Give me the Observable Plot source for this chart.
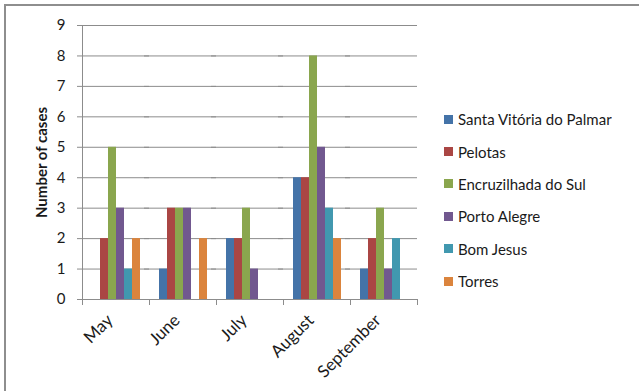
<!DOCTYPE html>
<html>
<head>
<meta charset="utf-8">
<script src="https://cdn.jsdelivr.net/npm/d3@7"></script>
<script src="https://cdn.jsdelivr.net/npm/@observablehq/plot@0.6"></script>
<style>
  body { margin: 0; background: #fff; }
  #chart { position: relative; width: 639px; height: 391px; overflow: hidden; font-family: Lato, sans-serif; }
  #chart .edge { position: absolute; left: 4px; top: 4px; width: 700px; height: 500px;
    border-top: 2px solid #8e8e8e; border-left: 2px solid #8e8e8e; }
  #chart > svg { position: absolute; left: 0; top: 0; }
  #legend { position: absolute; left: 444px; top: 103px; width: 195px; font-family: Lato, sans-serif; font-size: 15px; color: #1a1a1a; }
  #legend .leg-swatch { height: 32.4px; padding-bottom: 0 !important; font-size: 15px !important; font-family: Lato, sans-serif !important; }
  #legend .leg-swatch > svg { margin-right: 5px !important; }
</style>
</head>
<body>
<div id="chart"><div class="edge"></div><div id="legend"></div></div>
<script>
// Monthly number of cases per municipality
const months = ["May", "June", "July", "August", "September"];
const cities = ["Santa Vitória do Palmar", "Pelotas", "Encruzilhada do Sul", "Porto Alegre", "Bom Jesus", "Torres"];
const santaVitoria = [0, 1, 2, 4, 1];
const pelotas      = [2, 3, 2, 4, 2];
const encruzilhada = [5, 3, 3, 8, 3];
const portoAlegre  = [3, 3, 1, 5, 1];
const bomJesus     = [1, 0, 0, 3, 2];
const torres       = [2, 2, 0, 2, 0];
const yTicks = [0, 1, 2, 3, 4, 5, 6, 7, 8, 9];
const colors = ["#4473a8", "#aa4644", "#8aa64e", "#71588f", "#4198af", "#db843d"];

const series = [santaVitoria, pelotas, encruzilhada, portoAlegre, bomJesus, torres];
const data = months.flatMap((month, i) =>
  cities.map((city, j) => ({month, city, cases: series[j][i]}))
);

const grid = "#8c8c8c";
const W = 639, H = 391, mt = 25, mb = 92;
const innerH = H - mt - mb;

const chart = Plot.plot({
  width: W,
  height: H,
  marginLeft: 81,
  marginRight: 222,
  marginTop: mt,
  marginBottom: mb,
  style: {fontFamily: "Lato, sans-serif", fontSize: "15px", color: "#1a1a1a", background: "transparent", overflow: "visible"},
  fx: {domain: months, padding: 0},
  x: {domain: cities, paddingInner: 0, paddingOuter: 0.735, axis: null},
  y: {domain: [0, 9]},
  color: {domain: cities, range: colors},
  marks: [
    // horizontal gridlines, extended left to form the y tick marks
    Plot.ruleY(yTicks, {stroke: grid, strokeWidth: 1, insetLeft: -5}),
    // y axis line
    Plot.frame({anchor: "left", stroke: grid, facetAnchor: "left"}),
    // category separators below the baseline
    Plot.frame({anchor: "left", stroke: grid, insetTop: innerH, insetBottom: -5}),
    Plot.frame({anchor: "right", stroke: grid, insetTop: innerH, insetBottom: -5}),
    Plot.barY(data, {fx: "month", x: "city", y: "cases", fill: "city"}),
    Plot.axisY({ticks: yTicks, tickSize: 0, tickPadding: 17, label: null}),
    Plot.axisFx({anchor: "bottom", tickRotate: -45, tickSize: 0, tickPadding: 18, dx: -6, fontSize: 17, label: null}),
    Plot.text(["Number of cases"], {frameAnchor: "left", textAnchor: "middle", rotate: -90, dx: -40, fontWeight: "bold", fontSize: 15, facetAnchor: "left"})
  ]
});
document.getElementById("chart").appendChild(chart);

const legend = Plot.legend({
  color: {domain: cities, range: colors},
  legend: "swatches",
  columns: 1,
  swatchSize: 9,
  className: "leg"
});
document.getElementById("legend").appendChild(legend);
</script>
</body>
</html>
